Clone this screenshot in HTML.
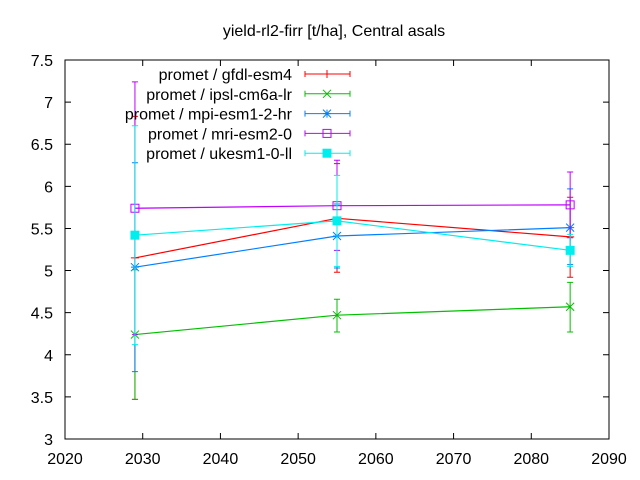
<!DOCTYPE html>
<html><head><meta charset="utf-8"><style>
body{margin:0;background:#fff}
svg{display:block;font-family:"Liberation Sans",sans-serif}
</style></head><body>
<svg id="c" width="640" height="480" viewBox="0 0 640 480">
<text x="334" y="36" font-size="16" text-anchor="middle">yield-rl2-firr [t/ha], Central asals</text>
<rect x="65" y="60" width="544" height="379" fill="none" stroke="#000" stroke-width="1"/>
<g id="axes"></g><g id="series"></g><g id="legend"></g>
</svg>
<script>
const years=[2029,2055,2085];
const names=["promet / gfdl-esm4","promet / ipsl-cm6a-lr","promet / mpi-esm1-2-hr","promet / mri-esm2-0","promet / ukesm1-0-ll"];
const colors=["#ff0000","#00c000","#0080ff","#c000ff","#00eeee"];
const markers=["plus","x","star","sq","fsq"];
const gfdl=[5.15,5.62,5.40], gfdlLo=[3.47,4.98,4.92], gfdlHi=[6.83,6.27,5.87];
const ipsl=[4.24,4.47,4.57], ipslLo=[3.47,4.27,4.27], ipslHi=[5.01,4.66,4.86];
const mpi=[5.04,5.41,5.51], mpiLo=[3.80,5.03,5.07], mpiHi=[6.28,5.79,5.97];
const mri=[5.74,5.77,5.78], mriLo=[4.24,5.24,5.39], mriHi=[7.24,6.31,6.17];
const uke=[5.42,5.59,5.24], ukeLo=[4.12,5.05,5.05], ukeHi=[6.72,6.13,5.43];
const vals=[gfdl,ipsl,mpi,mri,uke], los=[gfdlLo,ipslLo,mpiLo,mriLo,ukeLo], his=[gfdlHi,ipslHi,mpiHi,mriHi,ukeHi];
const xTicks=[2020,2030,2040,2050,2060,2070,2080,2090];
const yTicks=[3,3.5,4,4.5,5,5.5,6,6.5,7,7.5];
const X0=65,X1=609,Y0=439,Y1=60;
const sx=v=>X0+(v-2020)/70*(X1-X0);
const sy=v=>Y0-(v-3)/4.5*(Y0-Y1);
const NS="http://www.w3.org/2000/svg";
function mk(p,tag,a){const e=document.createElementNS(NS,tag);for(const k in a)e.setAttribute(k,a[k]);p.appendChild(e);return e;}
const ax=document.getElementById('axes');
xTicks.forEach(t=>{const x=sx(t);
 const l=mk(ax,'path',{d:`M${x} ${Y0}v-6M${x} ${Y1}v6`,stroke:'#000'});
 
 
 const tx=mk(ax,'text',{x:x,y:Y0+25,'font-size':16,'text-anchor':'middle'});tx.textContent=t;
 
 });
yTicks.forEach(t=>{const y=sy(t);
 const l=mk(ax,'path',{d:`M${X0} ${y}h6M${X1} ${y}h-6`,stroke:'#000'});
 
 
 const tx=mk(ax,'text',{x:X0-12,y:y+6,'font-size':16,'text-anchor':'end'});tx.textContent=t;
 
 });
function marker(g,type,x,y,c){
 if(type==='plus')mk(g,'path',{d:`M${x-4} ${y}h8M${x} ${y-4}v8`,stroke:c,fill:'none'});
 else if(type==='x')mk(g,'path',{d:`M${x-4} ${y-4}l8 8M${x-4} ${y+4}l8 -8`,stroke:c,fill:'none'});
 else if(type==='star')mk(g,'path',{d:`M${x-4} ${y}h8M${x} ${y-4}v8M${x-4} ${y-4}l8 8M${x-4} ${y+4}l8 -8`,stroke:c,fill:'none'});
 else if(type==='sq')mk(g,'rect',{x:x-4,y:y-4,width:8,height:8,stroke:c,fill:'none'});
 else mk(g,'rect',{x:x-4.5,y:y-4.5,width:9,height:9,fill:c});
}
const sg=document.getElementById('series');
vals.forEach((v,i)=>{const c=colors[i];
 const g=mk(sg,'g',{});
 
 
 mk(g,'polyline',{points:years.map((yr,j)=>sx(yr)+','+sy(v[j])).join(' '),fill:'none',stroke:c,'stroke-width':1.2});
 years.forEach((yr,j)=>{const x=sx(yr),lo=sy(los[i][j]),hi=sy(his[i][j]);
  const e=mk(g,'path',{d:`M${x} ${lo}V${hi}M${x-3} ${lo}h6M${x-3} ${hi}h6`,stroke:c,fill:'none'});
  
  
  marker(g,markers[i],x,sy(v[j]),c);});
});
const lg=document.getElementById('legend');
names.forEach((n,i)=>{const y=74+i*19.8,c=colors[i];
 const g=mk(lg,'g',{});
 
 
 const t=mk(g,'text',{x:292,y:y+6,'font-size':16,'text-anchor':'end'});t.textContent=n;
 mk(g,'path',{d:`M305 ${y}h45M305 ${y-3}v6M350 ${y-3}v6`,stroke:c,fill:'none'});
 marker(g,markers[i],327,y,c);});
</script>
</body></html>
